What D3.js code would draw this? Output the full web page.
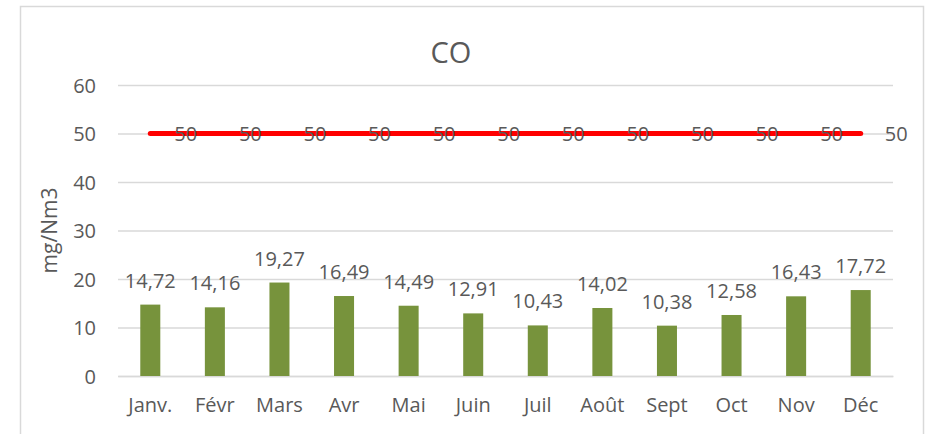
<!DOCTYPE html>
<html>
<head>
<meta charset="utf-8">
<script src="https://cdn.jsdelivr.net/npm/d3@7"></script>
<style>
  body { margin: 0; background: #fff; }
  text { font-family: "Open Sans", Lato, sans-serif; fill: #595959; }
</style>
</head>
<body>
<svg id="chart" width="933" height="434"></svg>
<script>
// données CO par mois
const mois = ["Janv.", "Févr", "Mars", "Avr", "Mai", "Juin", "Juil", "Août", "Sept", "Oct", "Nov", "Déc"];
const valeurs = [14.72, 14.16, 19.27, 16.49, 14.49, 12.91, 10.43, 14.02, 10.38, 12.58, 16.43, 17.72];
const limite = [50, 50, 50, 50, 50, 50, 50, 50, 50, 50, 50, 50];
const yTicks = [0, 10, 20, 30, 40, 50, 60];

const svg = d3.select("#chart");
const margin = { top: 85, right: 40, bottom: 58, left: 118 };
const width = 893 - margin.left;
const height = 376 - margin.top;

const fmt = v => String(v.toFixed(2)).replace(".", ",");

// cadre du graphique
svg.append("rect")
  .attr("x", 20.5).attr("y", 6.5)
  .attr("width", 903).attr("height", 440)
  .attr("fill", "none")
  .attr("stroke", "#d9d9d9")
  .attr("stroke-width", 1.5);

const g = svg.append("g").attr("transform", `translate(${margin.left},${margin.top})`);

// échelles
const x = d3.scaleBand().domain(mois).range([0, width]).paddingInner(0.69).paddingOuter(0.345);
const xc = d => x(d) + x.bandwidth() / 2;
const y = d3.scaleLinear().domain([0, 60]).range([height, 0]);

// grille
g.append("g")
  .call(d3.axisLeft(y).tickValues(yTicks).tickSize(-width).tickFormat(""))
  .call(a => a.select(".domain").remove())
  .selectAll("line")
  .attr("stroke", "#d9d9d9")
  .attr("stroke-width", 1.3);

// axe Y
g.append("g")
  .call(d3.axisLeft(y).tickValues(yTicks).tickSize(0).tickPadding(22))
  .call(a => a.select(".domain").remove())
  .selectAll("text")
  .style("font-size", "20px")
  .attr("dy", "0.35em");

// axe X
g.append("g")
  .attr("transform", `translate(0,${height})`)
  .call(d3.axisBottom(x).tickSize(0).tickPadding(22))
  .call(a => a.select(".domain").attr("stroke", "#d9d9d9").attr("stroke-width", 1.5))
  .selectAll("text")
  .style("font-size", "20px");

// barres
g.selectAll(".bar")
  .data(valeurs)
  .enter().append("rect")
  .attr("class", "bar")
  .attr("x", (d, i) => x(mois[i]))
  .attr("y", d => y(d))
  .attr("width", x.bandwidth())
  .attr("height", d => height - y(d))
  .attr("fill", "#77933c");

// étiquettes des barres
g.selectAll(".lbl")
  .data(valeurs)
  .enter().append("text")
  .attr("class", "lbl")
  .attr("x", (d, i) => xc(mois[i]))
  .attr("y", d => y(d) - 17)
  .attr("text-anchor", "middle")
  .style("font-size", "20px")
  .text(fmt);

// ligne limite
const line = d3.line().x((d, i) => xc(mois[i])).y(d => y(d));
g.append("path")
  .datum(limite)
  .attr("d", line)
  .attr("fill", "none")
  .attr("stroke", "#ff0000")
  .attr("stroke-width", 5)
  .attr("stroke-linecap", "round");

g.selectAll(".lim")
  .data(limite)
  .enter().append("text")
  .attr("class", "lim")
  .attr("x", (d, i) => xc(mois[i]) + 24)
  .attr("y", d => y(d))
  .attr("dy", "0.38em")
  .style("font-size", "20px")
  .text(d => d);

// titre axe Y
svg.append("text")
  .attr("transform", `translate(57,${margin.top + height / 2}) rotate(-90)`)
  .attr("text-anchor", "middle")
  .style("font-size", "21px")
  .text("mg/Nm3");

// titre
svg.append("text")
  .attr("x", 451)
  .attr("y", 63)
  .attr("text-anchor", "middle")
  .style("font-size", "29px")
  .text("CO");
</script>
</body>
</html>
